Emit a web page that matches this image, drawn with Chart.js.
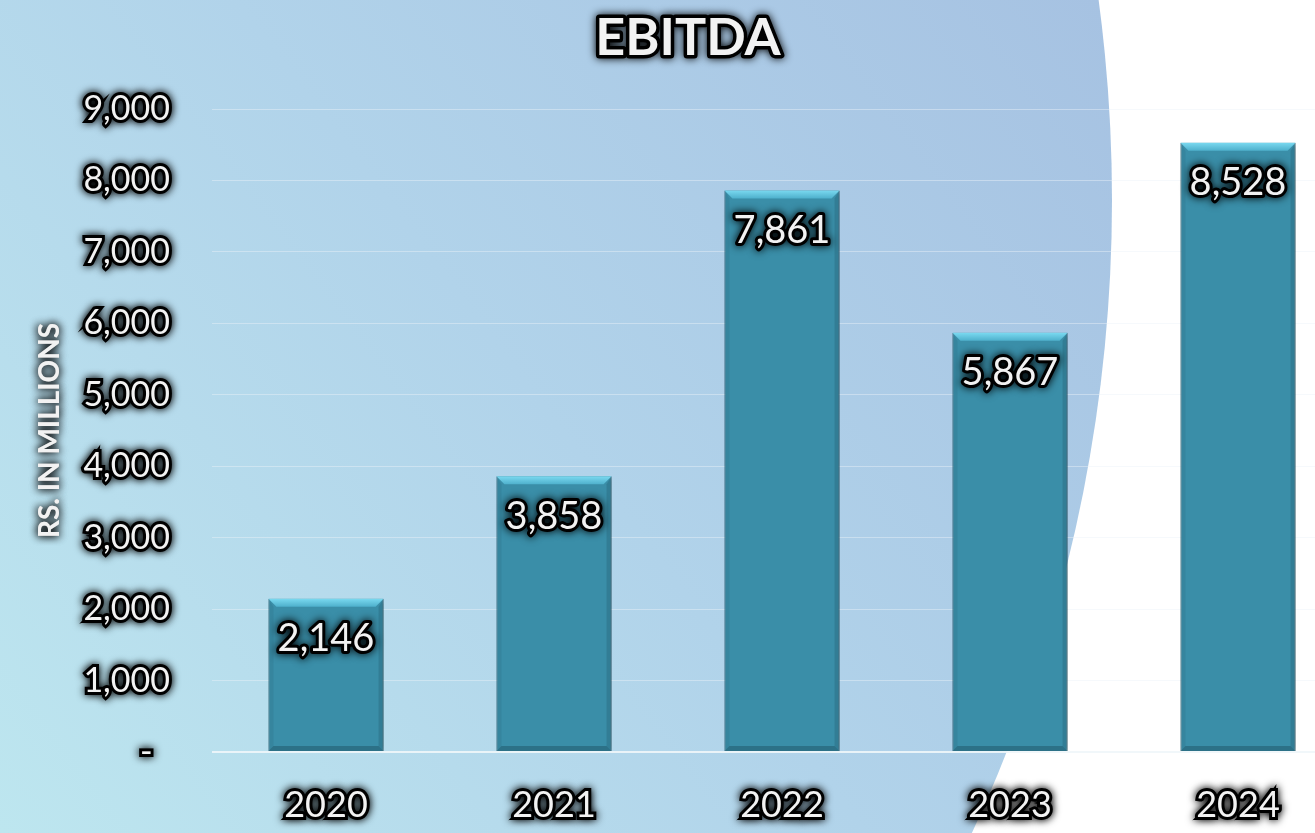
<!DOCTYPE html>
<html>
<head>
<meta charset="utf-8">
<title>EBITDA</title>
<script src="https://cdn.jsdelivr.net/npm/chart.js@4.4.1/dist/chart.umd.min.js"></script>
<style>
html, body { margin: 0; padding: 0; overflow: hidden; background: #fff; }
#wrap { width: 1315px; height: 833px; overflow: hidden; }
canvas { display: block; }
</style>
</head>
<body>
<div id="wrap"><canvas id="ebitdaChart" width="1352" height="833"></canvas></div>
<script>
"use strict";
// data
var years = ['2020', '2021', '2022', '2023', '2024'];
var ebitda = [2146, 3858, 7861, 5867, 8528];
var yTickLabels = ['-  ', '1,000', '2,000', '3,000', '4,000', '5,000', '6,000', '7,000', '8,000', '9,000'];
var chartTitle = 'EBITDA';
var yAxisTitle = 'RS. IN MILLIONS';

var FONT = "Lato, 'Open Sans', sans-serif";
var TEXT = '#f2f2f2';

function glow(c) {
    c.shadowColor = 'rgba(0,0,0,1)';
    c.shadowBlur = 8;
    c.shadowOffsetX = 0;
    c.shadowOffsetY = 0;
}

function fmt(v) {
    return v.toLocaleString('en-US');
}

// white text with a black halo
function haloText(c, str, x, y, sw) {
    c.save();
    glow(c);
    c.lineJoin = 'round';
    c.lineWidth = sw;
    c.strokeStyle = '#000';
    c.strokeText(str, x, y);
    c.shadowBlur = 3;
    c.fillStyle = TEXT;
    c.fillText(str, x, y);
    c.restore();
}

/* background: white page with big blue disc on the left */
var backdrop = {
    id: 'backdrop',
    beforeDraw: function(chart) {
        var c = chart.ctx, w = chart.width, h = chart.height;
        c.save();
        c.fillStyle = '#ffffff';
        c.fillRect(0, 0, w, h);
        c.beginPath();
        c.arc(-388, 200, 1500, 0, Math.PI * 2);
        c.clip();
        var g = c.createLinearGradient(0, h, 1100, 0);
        g.addColorStop(0, '#bde6ef');
        g.addColorStop(0.5, '#b1d3ea');
        g.addColorStop(1, '#a6c2e2');
        c.fillStyle = g;
        c.fillRect(0, 0, w, h);
        c.restore();
    }
};

/* dark glow behind scale texts */
var scaleGlow = {
    id: 'scaleGlow',
    beforeDraw: function(chart) {
        Object.keys(chart.scales).forEach(function(k) {
            var s = chart.scales[k];
            if (s._glow) return;
            s._glow = true;
            var drawLabels = s.drawLabels, drawTitle = s.drawTitle;
            s.drawLabels = function(area) {
                this.ctx.save(); glow(this.ctx);
                drawLabels.call(this, area);
                this.ctx.restore();
            };
            s.drawTitle = function() {
                this.ctx.save(); glow(this.ctx);
                this.ctx.lineJoin = 'round';
                drawTitle.call(this);
                drawTitle.call(this);
                this.ctx.restore();
            };
        });
    }
};

/* bar shadow, bevel, value labels and title */
var barDeco = {
    id: 'barDeco',
    beforeDatasetsDraw: function(chart) {
        var c = chart.ctx;
        c.save();
        c.shadowColor = 'rgba(0,0,0,0.3)';
        c.shadowBlur = 6;
        c.shadowOffsetX = 2;
        c.shadowOffsetY = 1;
    },
    afterDatasetsDraw: function(chart) {
        var c = chart.ctx;
        c.restore();
        var meta = chart.getDatasetMeta(0);
        meta.data.forEach(function(bar, i) {
            var p = bar.getProps(['x', 'y', 'width', 'base'], true);
            var l = p.x - p.width / 2, r = p.x + p.width / 2, t = p.y, b = p.base, e = 8;
            c.save();
            // top bevel
            var g = c.createLinearGradient(0, t, 0, t + e);
            g.addColorStop(0, '#7ad9f0');
            g.addColorStop(1, '#4eb0cc');
            c.fillStyle = g;
            c.beginPath();
            c.moveTo(l, t); c.lineTo(r, t); c.lineTo(r - e, t + e); c.lineTo(l + e, t + e);
            c.closePath(); c.fill();
            // side bevels
            c.fillStyle = 'rgba(20,60,75,0.10)';
            c.beginPath();
            c.moveTo(l, t); c.lineTo(l + 5, t + e); c.lineTo(l + 5, b - 5); c.lineTo(l, b);
            c.closePath(); c.fill();
            c.fillStyle = 'rgba(20,60,75,0.2)';
            c.beginPath();
            c.moveTo(r, t); c.lineTo(r - 5, t + e); c.lineTo(r - 5, b - 5); c.lineTo(r, b);
            c.closePath(); c.fill();
            c.fillStyle = 'rgba(20,60,75,0.35)';
            c.beginPath();
            c.moveTo(l, b); c.lineTo(l + 5, b - 5); c.lineTo(r - 5, b - 5); c.lineTo(r, b);
            c.closePath(); c.fill();
            c.restore();
            // value label
            c.save();
            c.font = '38px ' + FONT;
            c.textAlign = 'center';
            c.textBaseline = 'middle';
            haloText(c, fmt(ebitda[i]), p.x, t + 40, 6);
            c.restore();
        });
    },
    afterDraw: function(chart) {
        var c = chart.ctx;
        c.save();
        c.font = 'bold 52px ' + FONT;
        c.textAlign = 'center';
        c.textBaseline = 'middle';
        haloText(c, chartTitle, 688, 38, 7);
        c.restore();
    }
};

var ctx = document.getElementById('ebitdaChart').getContext('2d');
var myChart = new Chart(ctx, {
    type: 'bar',
    data: {
        labels: years,
        datasets: [{
            label: 'EBITDA',
            data: ebitda,
            backgroundColor: '#3a8ea8',
            borderColor: '#2b6e83',
            borderWidth: 1,
            barPercentage: 0.505,
            categoryPercentage: 1.0
        }]
    },
    options: {
        responsive: false,
        animation: false,
        layout: { padding: { top: 109, left: 0, right: 0, bottom: 0 } },
        plugins: {
            legend: { display: false },
            tooltip: { enabled: false }
        },
        scales: {
            x: {
                grid: { display: false, drawTicks: false },
                border: { display: false },
                ticks: {
                    color: TEXT,
                    font: { family: FONT, size: 36 },
                    padding: 32,
                    textStrokeColor: '#000',
                    textStrokeWidth: 6
                },
                afterFit: function(scale) { scale.height = 81; }
            },
            y: {
                min: 0,
                max: 9000,
                grid: {
                    drawTicks: false,
                    color: function(c) {
                        return c.tick && c.tick.value === 0 ? 'rgba(240,246,250,0.9)' : 'rgba(235,242,248,0.45)';
                    },
                    lineWidth: function(c) { return c.tick && c.tick.value === 0 ? 2 : 1; }
                },
                border: { display: false },
                ticks: {
                    stepSize: 1000,
                    color: TEXT,
                    font: { family: FONT, size: 34 },
                    padding: 42,
                    textStrokeColor: '#000',
                    textStrokeWidth: 6,
                    callback: function(v, i) { return yTickLabels[i]; }
                },
                title: {
                    display: true,
                    text: yAxisTitle,
                    color: TEXT,
                    font: { family: FONT, size: 28, weight: 'bold' },
                    padding: { top: 33, bottom: 0 }
                },
                afterFit: function(scale) { scale.width = 212; }
            }
        }
    },
    plugins: [backdrop, scaleGlow, barDeco]
});
</script>
</body>
</html>
